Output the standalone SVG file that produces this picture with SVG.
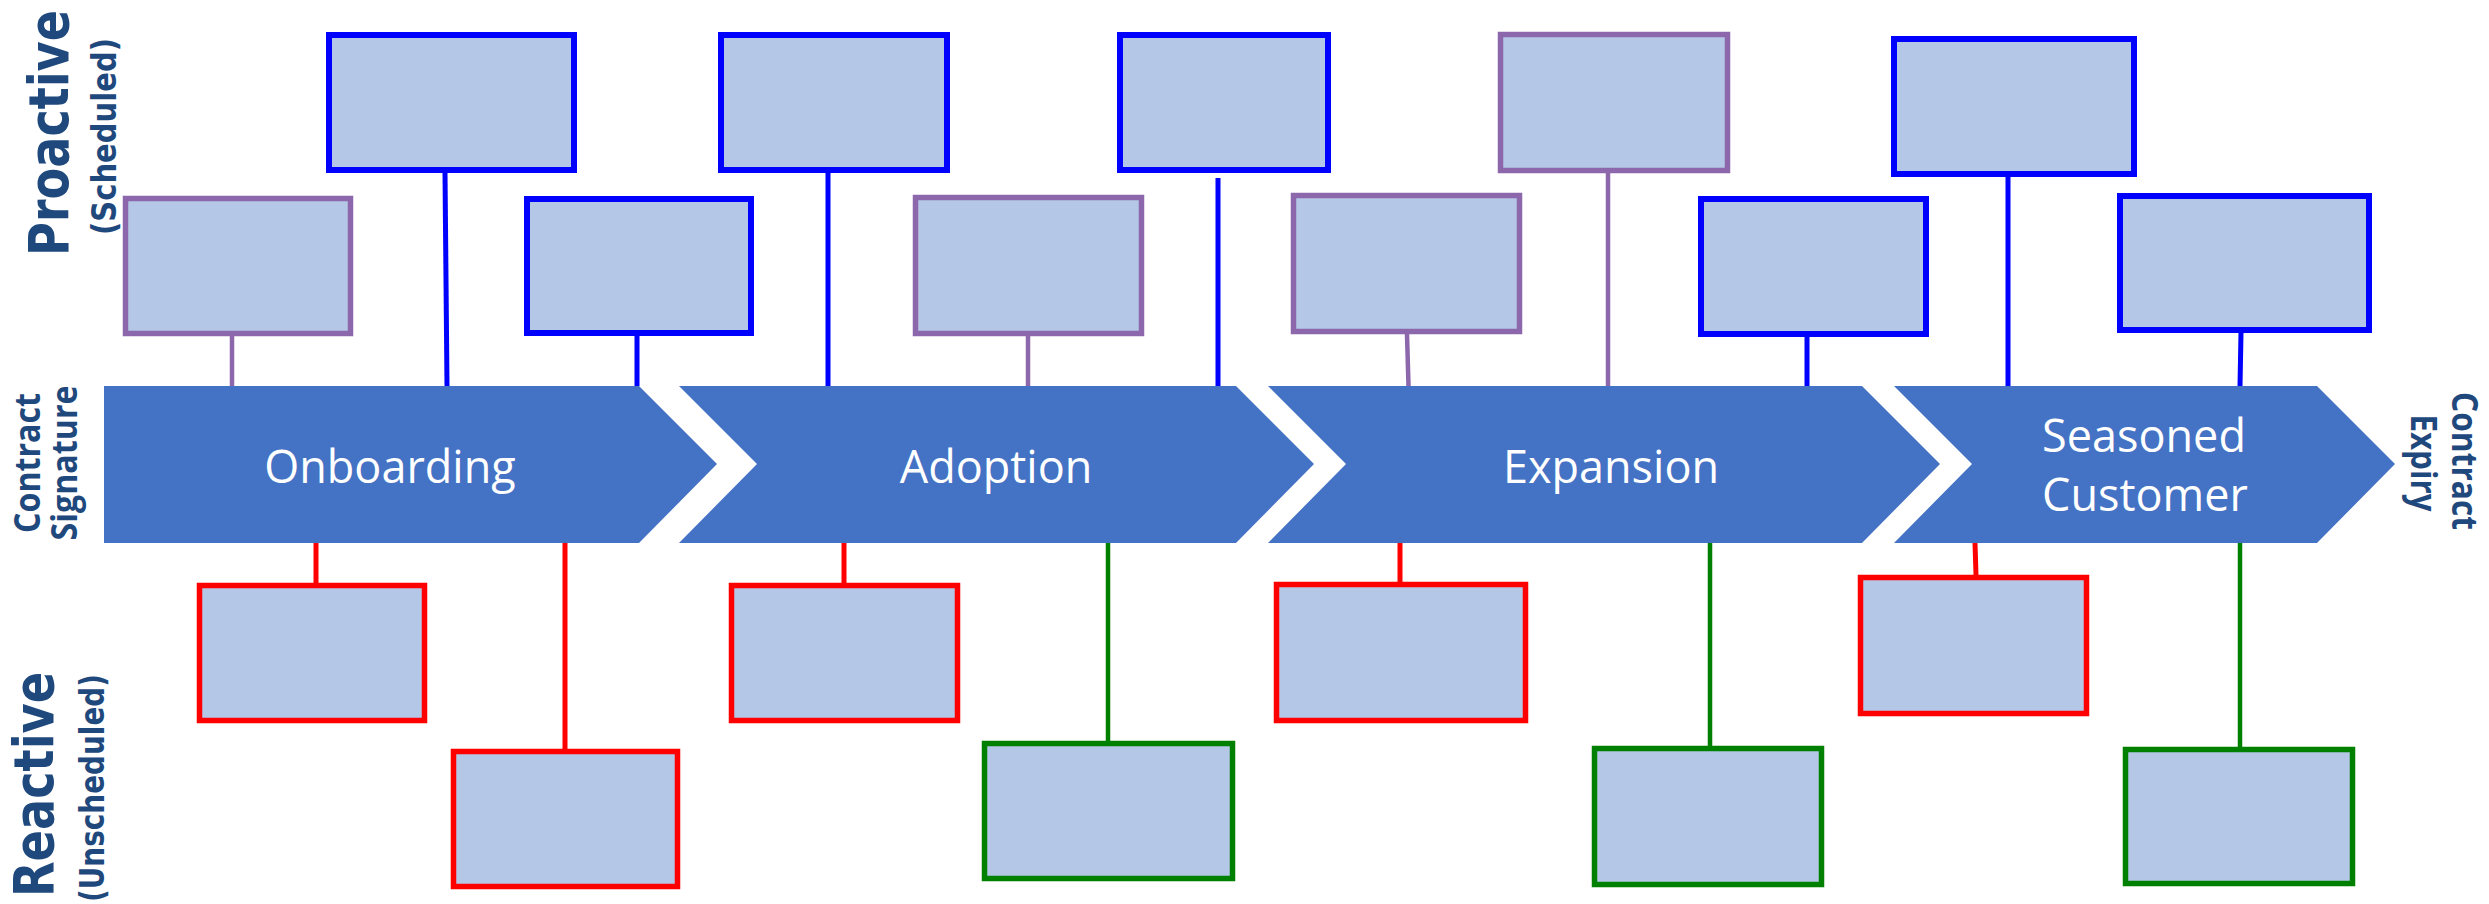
<svg xmlns="http://www.w3.org/2000/svg" width="2489" height="904" viewBox="0 0 2489 904">
  <style>
    .bg { fill: #ffffff; }
    .box { fill: #B4C7E7; }
    .blue { stroke: #0000FF; stroke-width: 6; }
    .purple { stroke: #8C67AB; stroke-width: 5.5; }
    .red { stroke: #FF0000; stroke-width: 5.5; }
    .green { stroke: #008000; stroke-width: 5.5; }
    .ln { fill: none; stroke-linecap: butt; }
    .ln-blue { stroke: #0000FF; stroke-width: 5; }
    .ln-purple { stroke: #8C67AB; stroke-width: 4.5; }
    .ln-red { stroke: #FF0000; stroke-width: 5; }
    .ln-green { stroke: #008000; stroke-width: 4.5; }
    .stage { fill: #4472C4; }
    .stage-label { font-family: "Open Sans", "Liberation Sans", sans-serif; font-size: 45px; fill: #ffffff; text-anchor: middle; }
    .side { font-family: "DejaVu Sans", "Liberation Sans", sans-serif; font-weight: bold; fill: #1F497D; }
    .edge { font-family: "Open Sans", "Liberation Sans", sans-serif; font-weight: bold; font-size: 35px; fill: #1F497D; text-anchor: middle; }
  </style>

  <rect class="bg" x="0" y="0" width="2489" height="904"/>

  <!-- Axis labels -->
  <g id="label-proactive">
    <text class="side" font-size="56" transform="translate(68,256) rotate(-90)" textLength="246" lengthAdjust="spacingAndGlyphs">Proactive</text>
    <text class="side" font-size="34" transform="translate(116,235) rotate(-90)" textLength="197" lengthAdjust="spacingAndGlyphs">(Scheduled)</text>
  </g>
  <g id="label-reactive">
    <text class="side" font-size="55" transform="translate(53,897) rotate(-90)" textLength="225" lengthAdjust="spacingAndGlyphs">Reactive</text>
    <text class="side" font-size="34" transform="translate(104,902) rotate(-90)" textLength="228" lengthAdjust="spacingAndGlyphs">(Unscheduled)</text>
  </g>
  <g id="label-signature">
    <text class="edge" transform="translate(40,463) rotate(-90)" textLength="140" lengthAdjust="spacingAndGlyphs">Contract</text>
    <text class="edge" transform="translate(77,463) rotate(-90)" textLength="155" lengthAdjust="spacingAndGlyphs">Signature</text>
  </g>
  <g id="label-expiry">
    <text class="edge" transform="translate(2452,461) rotate(90)" textLength="138" lengthAdjust="spacingAndGlyphs">Contract</text>
    <text class="edge" transform="translate(2411,463) rotate(90)" textLength="97" lengthAdjust="spacingAndGlyphs">Expiry</text>
  </g>

  <!-- Connectors between the stage bar and the activity boxes -->
  <g id="connectors" class="ln">
    <line class="ln-purple" x1="232" y1="336" x2="232" y2="386"/>
    <line class="ln-blue" x1="445" y1="173" x2="447" y2="386"/>
    <line class="ln-blue" x1="637" y1="336" x2="637" y2="386"/>
    <line class="ln-blue" x1="828" y1="173" x2="828" y2="386"/>
    <line class="ln-purple" x1="1028" y1="336" x2="1028" y2="386"/>
    <line class="ln-blue" x1="1218" y1="178" x2="1218" y2="386"/>
    <line class="ln-purple" x1="1407" y1="334" x2="1408.5" y2="386"/>
    <line class="ln-purple" x1="1608" y1="173" x2="1608" y2="386"/>
    <line class="ln-blue" x1="1807" y1="337" x2="1807" y2="386"/>
    <line class="ln-blue" x1="2008" y1="177" x2="2008" y2="386"/>
    <line class="ln-blue" x1="2241" y1="333" x2="2240" y2="386"/>

    <line class="ln-red" x1="316" y1="543" x2="316" y2="583"/>
    <line class="ln-red" x1="565" y1="543" x2="565" y2="749"/>
    <line class="ln-red" x1="844" y1="543" x2="844" y2="583"/>
    <line class="ln-green" x1="1108" y1="543" x2="1108" y2="741"/>
    <line class="ln-red" x1="1400" y1="543" x2="1400" y2="584"/>
    <line class="ln-green" x1="1710" y1="543" x2="1710" y2="746"/>
    <line class="ln-red" x1="1975" y1="543" x2="1976" y2="575"/>
    <line class="ln-green" x1="2240" y1="543" x2="2240" y2="747"/>
  </g>

  <!-- Stage chevrons -->
  <g id="stage-onboarding">
    <polygon class="stage" points="104,386 639,386 717,464 639,543 104,543"/>
    <text class="stage-label" x="390" y="483">Onboarding</text>
  </g>
  <g id="stage-adoption">
    <polygon class="stage" points="679,386 1236,386 1314,464 1236,543 679,543 757,464"/>
    <text class="stage-label" x="996" y="483">Adoption</text>
  </g>
  <g id="stage-expansion">
    <polygon class="stage" points="1268,386 1862,386 1940,464 1862,543 1268,543 1346,464"/>
    <text class="stage-label" x="1611" y="483">Expansion</text>
  </g>
  <g id="stage-seasoned">
    <polygon class="stage" points="1894,386 2317,386 2395,464 2317,543 1894,543 1972,464"/>
    <text class="stage-label" x="2144" y="452">Seasoned</text>
    <text class="stage-label" x="2145" y="511">Customer</text>
  </g>

  <!-- Proactive activities, upper row -->
  <g id="p-top-1"><rect class="box blue" x="329" y="35" width="245" height="135"/></g>
  <g id="p-top-2"><rect class="box blue" x="721" y="35" width="226" height="135"/></g>
  <g id="p-top-3"><rect class="box blue" x="1120" y="35" width="208" height="135"/></g>
  <g id="p-top-4"><rect class="box purple" x="1500.5" y="34.5" width="227" height="136"/></g>
  <g id="p-top-5"><rect class="box blue" x="1894" y="39" width="240" height="135"/></g>

  <!-- Proactive activities, lower row -->
  <g id="p-mid-1"><rect class="box purple" x="125.5" y="198.5" width="225" height="135"/></g>
  <g id="p-mid-2"><rect class="box blue" x="527" y="199" width="224" height="134"/></g>
  <g id="p-mid-3"><rect class="box purple" x="915.5" y="197.5" width="226" height="136"/></g>
  <g id="p-mid-4"><rect class="box purple" x="1293.5" y="195.5" width="226" height="136"/></g>
  <g id="p-mid-5"><rect class="box blue" x="1701" y="199" width="225" height="135"/></g>
  <g id="p-mid-6"><rect class="box blue" x="2120" y="196" width="249" height="134"/></g>

  <!-- Reactive activities, upper row -->
  <g id="r-top-1"><rect class="box red" x="199.5" y="585.5" width="225" height="135"/></g>
  <g id="r-top-2"><rect class="box red" x="731.5" y="585.5" width="226" height="135"/></g>
  <g id="r-top-3"><rect class="box red" x="1276.5" y="584.5" width="249" height="136"/></g>
  <g id="r-top-4"><rect class="box red" x="1860.5" y="577.5" width="226" height="136"/></g>

  <!-- Reactive activities, lower row -->
  <g id="r-low-1"><rect class="box red" x="453.5" y="751.5" width="224" height="135"/></g>
  <g id="r-low-2"><rect class="box green" x="984.5" y="743.5" width="248" height="135"/></g>
  <g id="r-low-3"><rect class="box green" x="1594.5" y="748.5" width="227" height="136"/></g>
  <g id="r-low-4"><rect class="box green" x="2125.5" y="749.5" width="227" height="134"/></g>
</svg>
